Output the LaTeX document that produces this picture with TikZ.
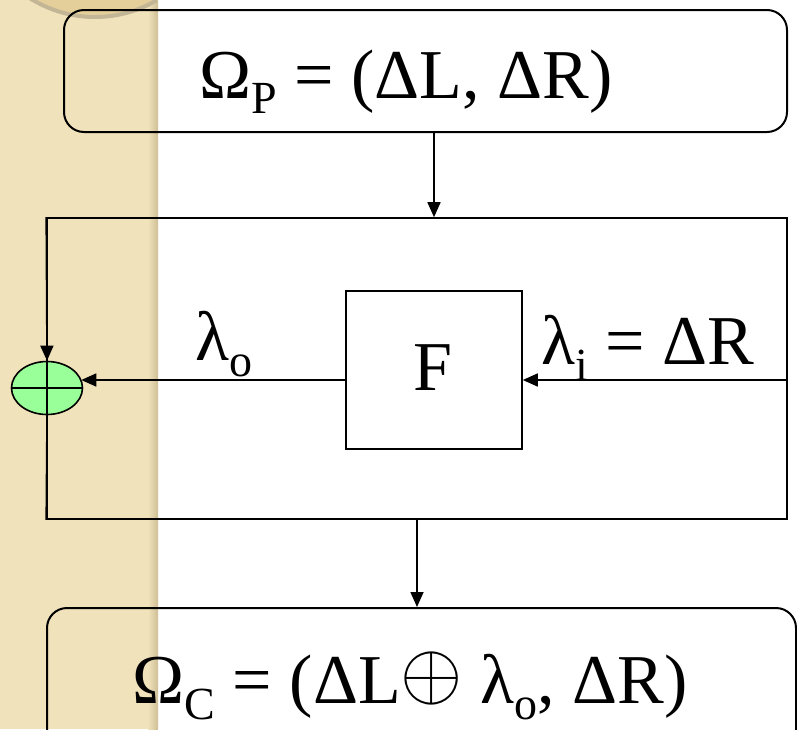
\documentclass[tikz,border=0pt]{standalone}
\usepackage{fontspec}
\setmainfont{Liberation Serif}
\usepackage{graphicx}
\usepackage{tikz}
\usetikzlibrary{shapes.geometric, arrows.meta, positioning, calc}

\definecolor{paper}{RGB}{240,226,186}
\definecolor{paperdark}{RGB}{205,190,150}
\definecolor{disc}{RGB}{228,207,155}
\definecolor{discrim}{RGB}{195,182,150}
\definecolor{sumgreen}{RGB}{153,255,153}

\newcommand{\dn}[1]{\raisebox{-0.22em}{\fontsize{23}{23}\selectfont #1}}
\newcommand{\opl}{\raisebox{2.5pt}{\scalebox{4.0}{\fontsize{10}{12}\selectfont$\oplus$}}}

\begin{document}
\begin{tikzpicture}[
  x=0.5pt, y=-0.5pt,
  rbox/.style={rectangle, draw, line width=1pt, rounded corners=10pt},
  sbox/.style={rectangle, draw, line width=0.8pt},
  arrow/.style={-{Triangle[length=7.5pt,width=6.5pt]}, line width=0.8pt},
  lbl/.style={inner sep=0pt, font=\fontsize{35}{40}\selectfont}
]
  \useasboundingbox (0,0) rectangle (797,729);
  \clip (0,0) rectangle (797,729);
  % paper strip on the left
  \fill[paper] (0,0) rectangle (150,729);
  \shade[left color=paper, right color=paperdark] (148,0) rectangle (158,729);
  \begin{scope}
    \clip (0,0) rectangle (157,729);
    \filldraw[fill=disc, draw=discrim, line width=2pt] (95,-105) circle (61pt);
  \end{scope}

  % boxes
  \node[rbox, minimum width=361.5pt, minimum height=61pt] (top) at (425.5,71) {};
  \node[sbox, minimum width=370pt, minimum height=150.5pt] (big) at (417,368.5) {};
  \node[sbox, minimum width=88pt, minimum height=79pt] (F) at (434,370) {};
  \node[rbox, minimum width=374.5pt, minimum height=72pt] (bot) at (421.5,680) {};
  \node[ellipse, draw, line width=0.8pt, fill=sumgreen, minimum width=35.5pt, minimum height=26.5pt, inner sep=0pt] (sum) at (47,388) {};
  \draw[line width=0.8pt] (sum.north) -- (sum.south) (sum.west) -- (sum.east);

  % texts
  \node[lbl] (ptxt) at (406,82) {Ω\dn{P} = (ΔL, ΔR)};
  \node[lbl] (ftxt) at (433,368) {F};
  \node[lbl] (lo) at (224,344) {λ\dn{o}};
  \node[lbl] (li) at (648,348) {λ\dn{i} = ΔR};
  \node[lbl] (ctxt) at (410,686) {Ω\dn{C} = (ΔL\opl{} λ\dn{o}, ΔR)};

  % connectors
  \coordinate (fin) at (787,380);
  \draw[arrow] (top.south -| F) -- (big.north -| F);
  \draw[arrow] (fin) -- (F.east |- fin);
  \draw[arrow] (F.west |- fin) -- ([xshift=-1pt]sum.east |- fin);
  \draw[arrow] (big.north west) -- (sum.north);
  \draw[line width=0.8pt] (sum.south) -- (big.south west);
  \draw[arrow] (big.south) -- (big.south |- bot.north);
\end{tikzpicture}
\end{document}
